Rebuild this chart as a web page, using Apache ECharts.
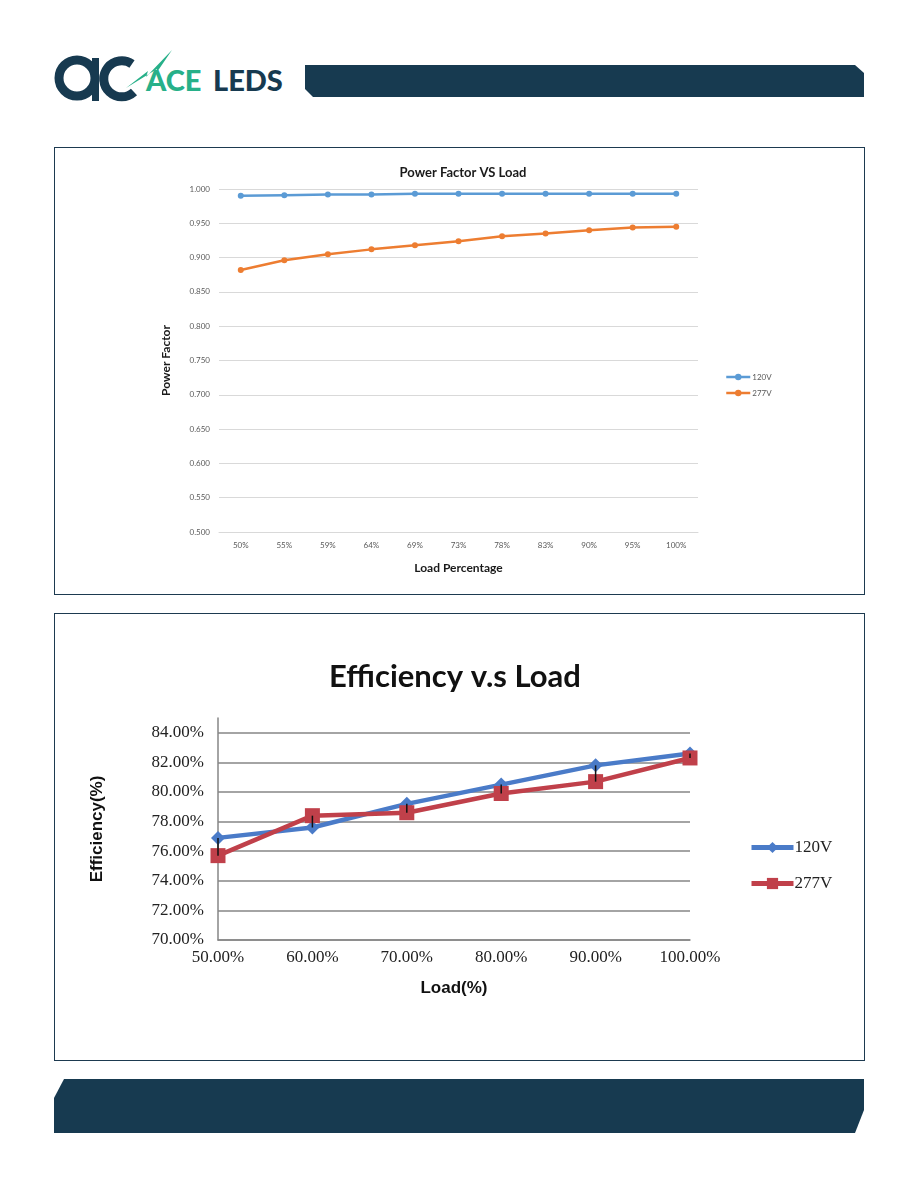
<!DOCTYPE html>
<html>
<head>
<meta charset="utf-8">
<title>Power Factor / Efficiency vs Load</title>
<script src="https://cdn.jsdelivr.net/npm/echarts@6.0.0/dist/echarts.min.js"></script>
<style>
  html, body { margin: 0; padding: 0; background: #fff; }
  #page { position: relative; width: 918px; height: 1188px; overflow: hidden; }
  #chart { position: absolute; left: 0; top: 0; width: 918px; height: 1188px; }
  .box { position: absolute; border: 1px solid #1d3a50; box-sizing: border-box; }
  .band { position: absolute; background: #173a50; }
  #logo { position: absolute; left: 50px; top: 44px; }
</style>
</head>
<body>
<div id="page">
  <svg id="logo" width="250" height="64" viewBox="0 0 250 64">
    <circle cx="27" cy="34" r="18" fill="none" stroke="#173a50" stroke-width="9"/>
    <rect x="42" y="14" width="7" height="43" fill="#173a50"/>
    <path d="M 82 20 A 18 18 0 1 0 84 48" fill="none" stroke="#173a50" stroke-width="9"/>
    <polygon points="76,44 98,27 96,33 122,6 105,31 107,25" fill="#27b089"/>
    <text x="96" y="47" font-family="Lato, 'Open Sans', sans-serif" font-weight="900" font-size="29" fill="#27b089">ACE</text>
    <text x="163" y="47" font-family="Lato, 'Open Sans', sans-serif" font-weight="900" font-size="29" fill="#173a50">LEDS</text>
  </svg>
  <div class="band" style="left:305px; top:65px; width:559px; height:32px; clip-path: polygon(0 0, 550px 0, 559px 8px, 559px 32px, 8px 32px, 0 24px);"></div>
  <div class="box" style="left:54px; top:147px; width:811px; height:448px;"></div>
  <div class="box" style="left:54px; top:613px; width:811px; height:448px;"></div>
  <div class="band" style="left:54px; top:1079px; width:810px; height:54px; clip-path: polygon(10px 0, 810px 0, 810px 31px, 801px 54px, 0 54px, 0 19px);"></div>
  <div id="chart"></div>
</div>
<script>
  // Power factor chart
  const pfLoads = ['50%', '55%', '59%', '64%', '69%', '73%', '78%', '83%', '90%', '95%', '100%'];
  const pf120 = [0.990, 0.991, 0.992, 0.992, 0.993, 0.993, 0.993, 0.993, 0.993, 0.993, 0.993];
  const pf277 = [0.882, 0.896, 0.905, 0.912, 0.918, 0.924, 0.931, 0.935, 0.940, 0.944, 0.945];

  // Efficiency chart
  const effLoads = [0.5, 0.6, 0.7, 0.8, 0.9, 1.0];
  const eff120 = [0.769, 0.776, 0.792, 0.805, 0.818, 0.826];
  const eff277 = [0.757, 0.784, 0.786, 0.799, 0.807, 0.823];

  const sans = 'Lato, Carlito, "Open Sans", sans-serif';
  const serif = '"Liberation Serif", "DejaVu Serif", serif';

  const pct = (v) => (v * 100).toFixed(2) + '%';

  const hiLo = effLoads.map((x, i) => [x, eff120[i], eff277[i]]);

  const chart = echarts.init(document.getElementById('chart'));

  const option = {
    animation: false,
    title: [
      {
        text: 'Power Factor VS Load',
        left: 458,
        top: 161,
        textAlign: 'center',
        textStyle: { fontFamily: sans, fontSize: 13, fontWeight: 'bold', color: '#1a1a1a' },
      },
      {
        text: 'Efficiency v.s Load',
        left: 450,
        top: 656,
        textAlign: 'center',
        textStyle: { fontFamily: sans, fontSize: 31, fontWeight: 'bold', color: '#111' },
      },
    ],
    legend: [
      {
        orient: 'vertical',
        left: 720,
        top: 368,
        itemWidth: 24,
        itemHeight: 8,
        itemGap: 8,
        data: ['120V', '277V'],
        lineStyle: { width: 2.5 },
        textStyle: { fontFamily: sans, fontSize: 8, color: '#595959', padding: [0, 0, 0, -3] },
      },
      {
        orient: 'vertical',
        left: 744,
        top: 834,
        itemWidth: 42,
        itemHeight: 14,
        itemGap: 19,
        data: ['120V ', '277V '],
        lineStyle: { width: 5 },
        textStyle: { fontFamily: serif, fontSize: 17, color: '#222', padding: [0, 0, 0, -4] },
      },
    ],
    grid: [
      { left: 219, top: 189, width: 479, height: 343 },
      { left: 218, top: 718, width: 472, height: 222 },
    ],
    xAxis: [
      {
        gridIndex: 0,
        type: 'category',
        data: pfLoads,
        boundaryGap: true,
        name: 'Load Percentage',
        nameLocation: 'middle',
        nameGap: 30,
        nameTextStyle: { fontFamily: sans, fontSize: 12, fontWeight: 'bold', color: '#1a1a1a' },
        axisLine: { lineStyle: { color: '#d9d9d9' } },
        axisTick: { show: false },
        axisLabel: { fontFamily: sans, fontSize: 8, color: '#595959', margin: 9 },
      },
      {
        gridIndex: 1,
        type: 'value',
        min: 0.5,
        max: 1.0,
        interval: 0.1,
        name: 'Load(%)',
        nameLocation: 'middle',
        nameGap: 40,
        nameTextStyle: { fontFamily: '"Liberation Sans", Arial, sans-serif', fontSize: 17, fontWeight: 'bold', color: '#111' },
        axisLine: { lineStyle: { color: '#868686', width: 1.5 } },
        axisTick: { show: false },
        splitLine: { show: false },
        axisLabel: { fontFamily: serif, fontSize: 17, color: '#222', margin: 9, formatter: pct },
      },
    ],
    yAxis: [
      {
        gridIndex: 0,
        type: 'value',
        min: 0.5,
        max: 1.0,
        interval: 0.05,
        name: 'Power Factor',
        nameLocation: 'middle',
        nameGap: 47,
        nameTextStyle: { fontFamily: sans, fontSize: 12, fontWeight: 'bold', color: '#1a1a1a' },
        axisLine: { show: false },
        axisTick: { show: false },
        splitLine: { lineStyle: { color: '#d9d9d9' } },
        axisLabel: { fontFamily: sans, fontSize: 8, color: '#595959', margin: 9, formatter: (v) => v.toFixed(3) },
      },
      {
        gridIndex: 1,
        type: 'value',
        min: 0.7,
        max: 0.85,
        interval: 0.02,
        name: 'Efficiency(%)',
        nameLocation: 'middle',
        nameGap: 112,
        nameTextStyle: { fontFamily: '"Liberation Sans", Arial, sans-serif', fontSize: 17, fontWeight: 'bold', color: '#111' },
        axisLine: { show: true, lineStyle: { color: '#868686', width: 1.5 } },
        axisTick: { show: false },
        splitLine: { showMaxLine: false, lineStyle: { color: '#868686', width: 1.5 } },
        axisLabel: { fontFamily: serif, fontSize: 17, color: '#222', margin: 14, showMaxLabel: false, formatter: pct },
      },
    ],
    series: [
      {
        name: '120V',
        type: 'line',
        xAxisIndex: 0,
        yAxisIndex: 0,
        data: pf120,
        symbol: 'circle',
        symbolSize: 6,
        color: '#5b9bd5',
        lineStyle: { width: 2.5 },
      },
      {
        name: '277V',
        type: 'line',
        xAxisIndex: 0,
        yAxisIndex: 0,
        data: pf277,
        symbol: 'circle',
        symbolSize: 6,
        color: '#ed7d31',
        lineStyle: { width: 2.5 },
      },
      {
        name: '120V ',
        type: 'line',
        xAxisIndex: 1,
        yAxisIndex: 1,
        data: effLoads.map((x, i) => [x, eff120[i]]),
        symbol: 'diamond',
        symbolSize: 14,
        color: '#4a7bc8',
        lineStyle: { width: 4.5 },
        z: 3,
      },
      {
        name: '277V ',
        type: 'line',
        xAxisIndex: 1,
        yAxisIndex: 1,
        data: effLoads.map((x, i) => [x, eff277[i]]),
        symbol: 'rect',
        symbolSize: 15,
        color: '#c0404a',
        lineStyle: { width: 4.5 },
        z: 4,
      },
      {
        // high-low lines between the two voltages
        type: 'custom',
        xAxisIndex: 1,
        yAxisIndex: 1,
        data: hiLo,
        z: 5,
        silent: true,
        renderItem: (params, api) => {
          const a = api.coord([api.value(0), api.value(1)]);
          const b = api.coord([api.value(0), api.value(2)]);
          return {
            type: 'line',
            shape: { x1: a[0], y1: a[1], x2: b[0], y2: b[1] },
            style: { stroke: '#111', lineWidth: 1.5 },
          };
        },
      },
    ],
  };

  chart.setOption(option);

  window.addEventListener('resize', function () {
    chart.resize();
  });
</script>
</body>
</html>
